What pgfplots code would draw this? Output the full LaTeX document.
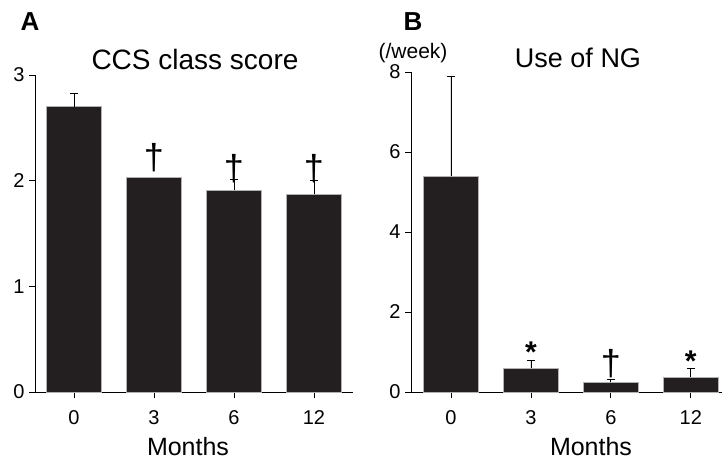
\documentclass[border=0pt]{standalone}
\usepackage{pgfplots}
\pgfplotsset{compat=1.18}
\usepackage{fontspec}
\setmainfont{Liberation Sans}
\definecolor{barfill}{RGB}{35,31,32}
\pgfplotsset{
  panel/.style={
    scale only axis,
    anchor=south west,
    axis x line*=bottom,
    axis y line*=left,
    axis line style={-, line width=0.8pt, black},
    tick align=outside,
    major tick length=6pt,
    tick style={line width=0.8pt, black},
    xtick={0,1,2,3},
    xticklabels={0,3,6,12},
    ymin=0,
    tick label style={font=\fontsize{20}{22}\selectfont},
    xticklabel style={yshift=-9pt},
    yticklabel style={xshift=-1pt},
    /pgf/number format/assume math mode=true,
    clip=false,
  },
  barnoerr/.style={
    ybar, bar width=55pt, bar shift=0pt,
    fill=barfill, draw=gray!60, line width=0.4pt,
  },
  barstyle/.style={
    barnoerr,
    error bars/.cd, y dir=plus, y explicit,
    error bar style={black, line width=0.8pt},
    error mark options={rotate=90, mark size=4pt, black, line width=0.8pt},
  },
}
\tikzset{
  dag/.style={font=\fontsize{36}{38}\selectfont, inner sep=0pt},
  ast/.style={font=\bfseries\fontsize{30}{32}\selectfont, inner sep=0pt},
}
\begin{document}
\begin{tikzpicture}[x=1pt,y=1pt]
\useasboundingbox (0,0) rectangle (722,463);
% Panel A
\begin{axis}[panel, at={(35pt,71pt)}, width=318pt, height=317pt,
  xmin=-0.4875, xmax=3.4875, ymax=3, ytick={0,1,2,3}]
\addplot[barstyle] coordinates {
  (0,2.70) +- (0,0.13)
  (2,1.91) +- (0,0.10)
  (3,1.87) +- (0,0.13)
};
\addplot[barnoerr] coordinates {(1,2.03)};
\node[dag] at (axis cs:1,2.22) {\textdagger};
\node[dag] at (axis cs:2,2.11) {\textdagger};
\node[dag] at (axis cs:3,2.11) {\textdagger};
\end{axis}
% Panel B
\begin{axis}[panel, at={(411pt,71pt)}, width=311pt, height=320pt,
  xmin=-0.5, xmax=3.39, ymax=8, ytick={0,2,4,6,8}]
\addplot[barstyle] coordinates {
  (0,5.40) +- (0,2.50)
  (1,0.60) +- (0,0.20)
  (2,0.25) +- (0,0.07)
  (3,0.37) +- (0,0.23)
};
\node[ast] at (axis cs:1,1.00) {*};
\node[dag] at (axis cs:2,0.70) {\textdagger};
\node[ast] at (axis cs:3,0.78) {*};
\end{axis}
% Labels
\node[font=\bfseries\fontsize{26}{28}\selectfont] at (30,441) {A};
\node[font=\bfseries\fontsize{26}{28}\selectfont] at (413,441) {B};
\node[font=\fontsize{28}{30}\selectfont] at (195,404) {CCS class score};
\node[font=\fontsize{27}{29}\selectfont] at (578,405) {Use of NG};
\node[font=\fontsize{21}{23}\selectfont] at (413,410) {(/week)};
\node[font=\fontsize{25}{27}\selectfont] at (188,16) {Months};
\node[font=\fontsize{25}{27}\selectfont] at (591,16) {Months};
\end{tikzpicture}
\end{document}
